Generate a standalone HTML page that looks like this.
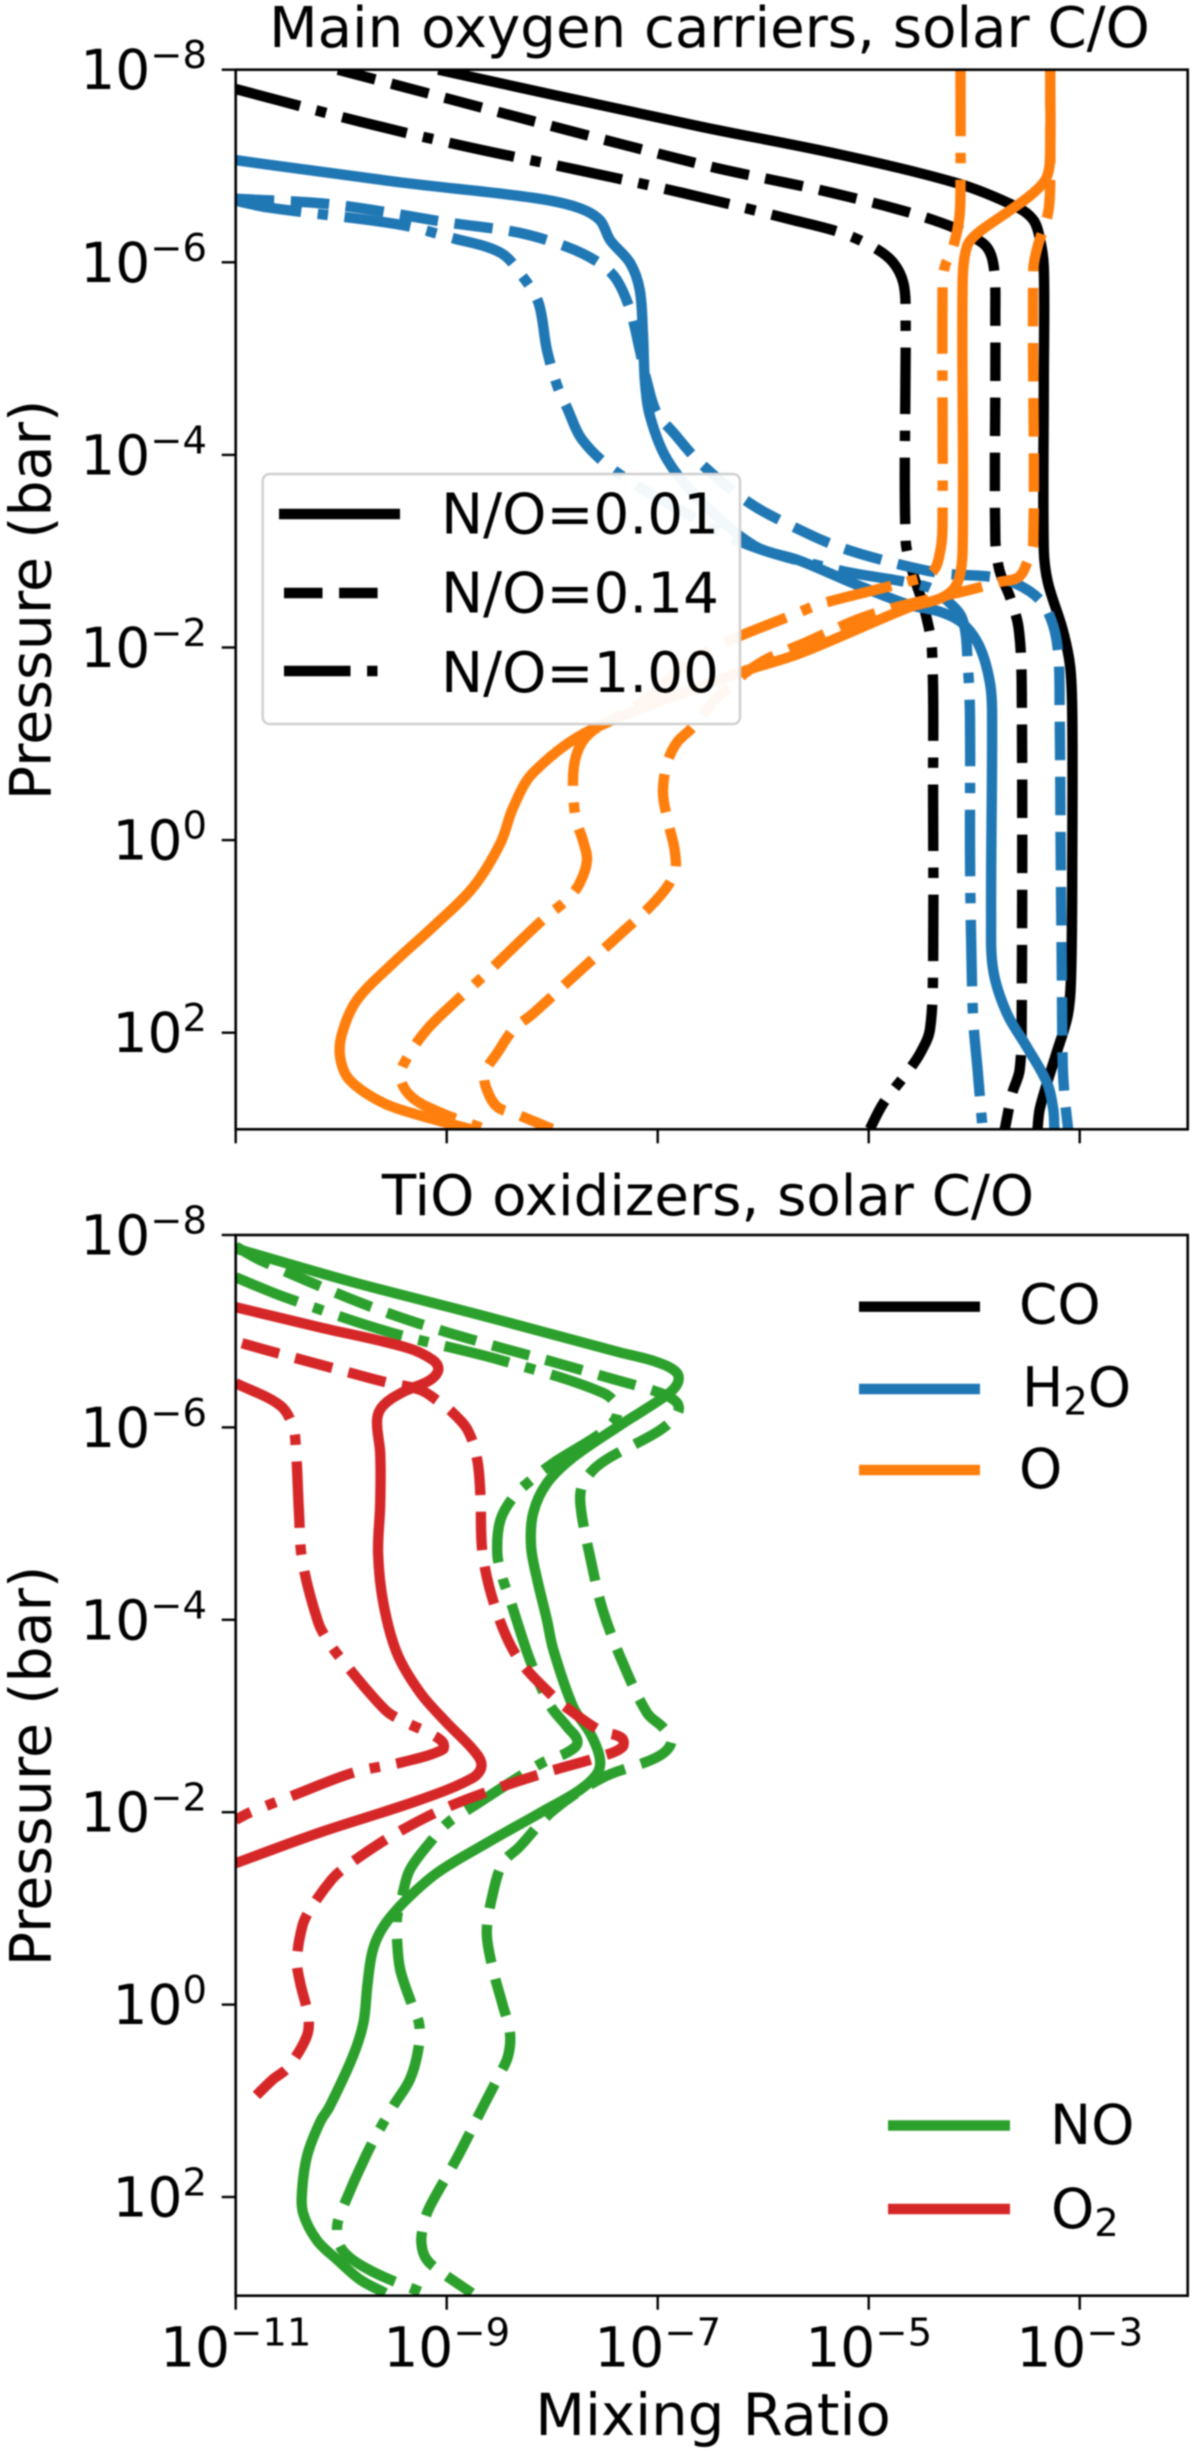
<!DOCTYPE html>
<html lang="en">
<head>
<meta charset="utf-8">
<title>Main oxygen carriers and TiO oxidizers</title>
<style>
html,body{margin:0;padding:0;background:#fff;}
body{width:1200px;height:2451px;overflow:hidden;}
svg{display:block;filter:blur(0.8px);}
text{font-family:"DejaVu Sans","Liberation Sans",sans-serif;fill:#000;}
</style>
</head>
<body>
<svg id="figure" xmlns="http://www.w3.org/2000/svg" width="1200" height="2451" viewBox="0 0 1200 2451">
  <defs>
    <clipPath id="clip-top"><rect x="235.7" y="69.7" width="952" height="1059.6"/></clipPath>
    <clipPath id="clip-bottom"><rect x="235.7" y="1235" width="952" height="1060.7"/></clipPath>
  </defs>
  <rect width="1200" height="2451" fill="#fff"/>

  <g>
    <text x="709.5" y="47" font-size="56.2" text-anchor="middle">Main oxygen carriers, solar C/O</text>
    <g id="top-lines" clip-path="url(#clip-top)"></g>
    <g id="top-axes"></g>
    <text x="0" y="0" transform="translate(50.5 600) rotate(-90)" font-size="57" text-anchor="middle">Pressure (bar)</text>
    <g>
      <rect x="262.7" y="474" width="477.3" height="250" rx="7" ry="7" fill="#fff" fill-opacity="0.95" stroke="#d0d0d0" stroke-width="2.5"/>
      <line x1="279" x2="400" y1="514" y2="514" stroke="#000" stroke-width="10.4"/>
      <text x="441" y="533.5" font-size="56.3">N/O=0.01</text>
      <line x1="284" x2="394" y1="593" y2="593" stroke="#000" stroke-width="10.4" stroke-dasharray="38.5 16.6"/>
      <text x="441" y="612.5" font-size="56.3">N/O=0.14</text>
      <line x1="284" x2="394" y1="671" y2="671" stroke="#000" stroke-width="10.4" stroke-dasharray="66.5 16.6 10.4 16.6"/>
      <text x="441" y="692" font-size="56.3">N/O=1.00</text>
    </g>
  </g>

  <g>
    <text x="708" y="1215" font-size="56.2" text-anchor="middle">TiO oxidizers, solar C/O</text>
    <g id="bottom-lines" clip-path="url(#clip-bottom)"></g>
    <g id="bottom-axes"></g>
    <text x="0" y="0" transform="translate(50.5 1766) rotate(-90)" font-size="57" text-anchor="middle">Pressure (bar)</text>
    <text x="713" y="2435" font-size="57.7" text-anchor="middle">Mixing Ratio</text>
    <g>
      <line x1="859" x2="980" y1="1306.7" y2="1306.7" stroke="#000" stroke-width="10.4"/>
      <text x="1019" y="1323.5" font-size="55">CO</text>
      <line x1="859" x2="980" y1="1389" y2="1389" stroke="#1f77b4" stroke-width="10.4"/>
      <text x="1022" y="1406.5" font-size="55">H<tspan font-size="38.5" dy="8">2</tspan><tspan dy="-8">O</tspan></text>
      <line x1="859" x2="980" y1="1470" y2="1470" stroke="#ff7f0e" stroke-width="10.4"/>
      <text x="1019" y="1488" font-size="55">O</text>
    </g>
    <g>
      <line x1="888" x2="1010" y1="2125.5" y2="2125.5" stroke="#2ca02c" stroke-width="10.4"/>
      <text x="1050" y="2144" font-size="55">NO</text>
      <line x1="888" x2="1010" y1="2209" y2="2209" stroke="#d62728" stroke-width="10.4"/>
      <text x="1051" y="2228" font-size="55">O<tspan font-size="38.5" dy="8">2</tspan></text>
    </g>
  </g>
</svg>

<script>
// Tick exponents (log10 units)
const xTickExponents = [-11, -9, -7, -5, -3];
const yTickExponents = [-8, -6, -4, -2, 0, 2];

// Every curve is a list of [log10 mixing ratio, log10 pressure in bar]

// CO
const coSolid = [[-9.08,-8],[-6.60,-7.41],[-5.34,-7.135],[-4.16,-6.82],[-3.59,-6.57],[-3.44,-6.44],[-3.38,-6.26],[-3.34,-5.95],[-3.34,-4.75],[-3.34,-3.01],[-3.30,-2.67],[-3.16,-2.18],[-3.09,-1.80],[-3.07,-1.28],[-3.07,0.10],[-3.08,1.32],[-3.11,1.80],[-3.22,2.21],[-3.30,2.49],[-3.38,2.80],[-3.40,3.0]];
const coDash = [[-10.03,-8],[-6.60,-7.02],[-5.34,-6.72],[-4.39,-6.44],[-3.92,-6.20],[-3.82,-5.99],[-3.80,-5.43],[-3.80,-3.12],[-3.76,-2.80],[-3.66,-2.52],[-3.58,-2.21],[-3.55,-1.63],[-3.55,1.84],[-3.57,2.39],[-3.64,2.63],[-3.71,3.0]];
const coDashDot = [[-11,-7.80],[-9.82,-7.46],[-8.81,-7.20],[-7.76,-6.96],[-6.76,-6.72],[-5.72,-6.44],[-5.27,-6.31],[-4.96,-6.16],[-4.77,-6.00],[-4.67,-5.78],[-4.65,-5.43],[-4.65,-3.12],[-4.58,-2.77],[-4.47,-2.39],[-4.40,-1.97],[-4.39,-0.42],[-4.39,1.32],[-4.42,1.97],[-4.51,2.21],[-4.64,2.42],[-4.86,2.73],[-4.99,3.0]];

// H2O
const h2oSolid = [[-11,-7.06],[-9.44,-6.83],[-8.18,-6.67],[-7.76,-6.57],[-7.55,-6.44],[-7.45,-6.23],[-7.26,-5.99],[-7.17,-5.71],[-7.14,-5.27],[-7.12,-4.75],[-7.07,-4.39],[-6.91,-3.95],[-6.60,-3.53],[-6.09,-3.06],[-5.65,-2.90],[-5.11,-2.65],[-4.61,-2.44],[-4.32,-2.37],[-4.11,-2.25],[-3.95,-2.01],[-3.85,-1.63],[-3.83,-1.28],[-3.84,0.80],[-3.82,1.35],[-3.69,1.80],[-3.50,2.15],[-3.31,2.52],[-3.25,2.80],[-3.24,3.0]];
const h2oDash = [[-11,-6.66],[-10.08,-6.60],[-8.97,-6.41],[-8.33,-6.31],[-7.86,-6.16],[-7.55,-5.99],[-7.39,-5.82],[-7.26,-5.50],[-7.17,-5.09],[-7.10,-4.75],[-7.01,-4.44],[-6.85,-4.23],[-6.60,-3.92],[-6.13,-3.50],[-5.65,-3.22],[-5.27,-3.04],[-4.77,-2.88],[-4.30,-2.77],[-3.76,-2.72],[-3.47,-2.58],[-3.31,-2.39],[-3.21,-2.01],[-3.19,-1.28],[-3.18,0.10],[-3.17,1.32],[-3.16,2.36],[-3.14,2.70],[-3.11,3.0]];
const h2oDashDot = [[-11,-6.64],[-10.70,-6.57],[-9.44,-6.39],[-8.94,-6.25],[-8.49,-6.10],[-8.28,-5.85],[-8.13,-5.58],[-8.05,-5.09],[-7.95,-4.71],[-7.86,-4.49],[-7.71,-4.15],[-7.39,-3.82],[-6.79,-3.43],[-6.13,-3.06],[-5.27,-2.80],[-4.45,-2.63],[-4.26,-2.49],[-4.11,-2.29],[-4.06,-1.80],[-4.04,-1.28],[-4.04,0.10],[-4.03,0.96],[-4.01,1.84],[-3.97,2.36],[-3.92,3.0]];

// O
const oSolid = [[-3.28,-8],[-3.28,-7.17],[-3.31,-6.89],[-3.44,-6.72],[-3.66,-6.54],[-3.97,-6.30],[-4.07,-6.16],[-4.11,-5.78],[-4.11,-3.01],[-4.16,-2.67],[-4.30,-2.52],[-4.61,-2.42],[-5.65,-1.94],[-6.22,-1.74],[-7.64,-1.14],[-8.18,-0.70],[-8.37,-0.34],[-8.49,0.03],[-8.75,0.49],[-9.13,0.90],[-9.51,1.28],[-9.85,1.66],[-9.99,2.0],[-10.01,2.25],[-9.92,2.49],[-9.60,2.73],[-9.25,2.86],[-8.78,3.0]];
const oDash = [[-3.28,-8],[-3.28,-6.82],[-3.30,-6.51],[-3.40,-6.16],[-3.44,-5.92],[-3.44,-3.09],[-3.50,-2.88],[-3.58,-2.73],[-3.76,-2.68],[-4.11,-2.58],[-4.77,-2.41],[-5.11,-2.29],[-5.58,-2.06],[-6.03,-1.84],[-6.41,-1.51],[-6.67,-1.17],[-6.82,-1.01],[-6.91,-0.80],[-6.95,-0.49],[-6.90,-0.18],[-6.84,0.10],[-6.84,0.34],[-7.01,0.62],[-7.39,1.01],[-7.80,1.42],[-8.18,1.80],[-8.37,1.97],[-8.52,2.21],[-8.64,2.42],[-8.62,2.59],[-8.52,2.77],[-8.33,2.85],[-8.00,3.0]];
const oDashDot = [[-4.13,-8],[-4.13,-6.82],[-4.14,-6.47],[-4.20,-6.16],[-4.28,-5.95],[-4.30,-5.71],[-4.30,-3.29],[-4.32,-3.01],[-4.40,-2.78],[-4.64,-2.68],[-4.86,-2.62],[-5.43,-2.46],[-5.65,-2.37],[-6.60,-1.92],[-7.17,-1.42],[-7.61,-1.14],[-7.74,-0.97],[-7.80,-0.70],[-7.78,-0.24],[-7.71,0],[-7.67,0.21],[-7.74,0.45],[-7.86,0.62],[-8.04,0.78],[-8.21,0.95],[-8.62,1.38],[-8.97,1.73],[-9.19,1.97],[-9.37,2.25],[-9.44,2.46],[-9.33,2.67],[-9.06,2.83],[-8.64,3.0]];

// NO
const noSolid = [[-11,-7.86],[-9.89,-7.51],[-8.62,-7.15],[-7.36,-6.78],[-7.01,-6.68],[-6.82,-6.57],[-6.81,-6.46],[-6.91,-6.34],[-7.36,-6.02],[-7.80,-5.69],[-8.05,-5.42],[-8.18,-5.11],[-8.20,-4.76],[-8.14,-4.41],[-8.05,-4.00],[-7.99,-3.69],[-7.80,-3.09],[-7.64,-2.82],[-7.55,-2.57],[-7.57,-2.41],[-7.74,-2.23],[-8.12,-1.99],[-8.62,-1.68],[-9.09,-1.37],[-9.41,-1.06],[-9.60,-0.81],[-9.70,-0.57],[-9.75,-0.22],[-9.79,0.19],[-9.89,0.54],[-10.11,1.06],[-10.20,1.22],[-10.32,1.56],[-10.37,1.92],[-10.36,2.17],[-10.23,2.45],[-10.04,2.65],[-9.82,2.86],[-9.58,3.0]];
const noDash = [[-11,-7.88],[-10.77,-7.74],[-10.01,-7.38],[-9.51,-7.17],[-9.00,-6.99],[-8.49,-6.83],[-7.99,-6.68],[-7.48,-6.52],[-6.98,-6.36],[-6.82,-6.26],[-6.81,-6.15],[-6.98,-5.97],[-7.45,-5.69],[-7.61,-5.56],[-7.72,-5.38],[-7.73,-5.17],[-7.64,-4.65],[-7.52,-4.10],[-7.33,-3.55],[-7.10,-3.03],[-6.95,-2.88],[-6.87,-2.73],[-7.01,-2.57],[-7.52,-2.36],[-7.99,-2.02],[-8.31,-1.64],[-8.47,-1.47],[-8.57,-1.12],[-8.62,-0.74],[-8.56,-0.36],[-8.47,0.0],[-8.40,0.30],[-8.42,0.54],[-8.51,0.75],[-8.66,1.07],[-8.90,1.59],[-9.16,2.10],[-9.22,2.29],[-9.24,2.48],[-9.19,2.65],[-9.04,2.79],[-8.76,3.0]];
const noDashDot = [[-11,-7.56],[-10.55,-7.36],[-9.54,-6.99],[-8.49,-6.70],[-7.52,-6.36],[-7.38,-6.18],[-7.48,-5.99],[-7.99,-5.63],[-8.18,-5.47],[-8.35,-5.30],[-8.49,-5.04],[-8.52,-4.69],[-8.47,-4.43],[-8.40,-4.21],[-8.21,-3.58],[-8.02,-3.11],[-7.86,-2.89],[-7.76,-2.73],[-7.86,-2.62],[-8.10,-2.51],[-8.78,-2.04],[-8.99,-1.89],[-9.14,-1.71],[-9.35,-1.40],[-9.42,-1.14],[-9.47,-0.91],[-9.47,-0.67],[-9.44,-0.36],[-9.33,0],[-9.26,0.21],[-9.27,0.47],[-9.35,0.78],[-9.51,1.06],[-9.73,1.49],[-9.98,2.10],[-10.04,2.32],[-9.99,2.55],[-9.73,2.76],[-9.22,3.0]];

// O2
const o2Solid = [[-11,-7.25],[-10.20,-7.04],[-9.38,-6.83],[-9.13,-6.70],[-9.08,-6.60],[-9.16,-6.49],[-9.41,-6.37],[-9.60,-6.23],[-9.66,-6.08],[-9.63,-5.73],[-9.63,-5.21],[-9.65,-4.69],[-9.60,-4.17],[-9.47,-3.65],[-9.25,-3.24],[-9.00,-2.93],[-8.75,-2.65],[-8.67,-2.49],[-8.75,-2.36],[-9.25,-2.13],[-10.20,-1.79],[-11,-1.47]];
const o2Dash = [[-10.94,-6.875],[-10.60,-6.77],[-10.09,-6.62],[-9.58,-6.47],[-9.25,-6.39],[-9.09,-6.28],[-8.95,-6.16],[-8.80,-5.97],[-8.71,-5.66],[-8.68,-5.28],[-8.66,-4.69],[-8.54,-4.13],[-8.33,-3.61],[-7.99,-3.20],[-7.83,-3.06],[-7.55,-2.85],[-7.34,-2.77],[-7.34,-2.67],[-7.57,-2.57],[-8.07,-2.41],[-8.57,-2.23],[-9.06,-2.02],[-9.54,-1.74],[-9.96,-1.43],[-10.09,-1.30],[-10.30,-0.98],[-10.37,-0.81],[-10.42,-0.46],[-10.39,-0.23],[-10.31,0.14],[-10.33,0.34],[-10.51,0.66],[-10.65,0.78],[-10.91,1.06]];
const o2DashDot = [[-11,-6.46],[-10.58,-6.23],[-10.46,-6.02],[-10.43,-5.80],[-10.40,-5.11],[-10.37,-4.62],[-10.22,-3.98],[-10.12,-3.77],[-9.99,-3.58],[-9.58,-3.06],[-9.40,-2.94],[-9.18,-2.83],[-9.04,-2.73],[-9.04,-2.65],[-9.42,-2.52],[-9.89,-2.41],[-10.44,-2.18],[-10.86,-2.00],[-11,-1.92]];

const SVG_NS = 'http://www.w3.org/2000/svg';
const LINE_WIDTH = 10.4;
const DASHES = {solid: '', dash: '38.5 16.6', dashdot: '66.5 16.6 10.4 16.6'};

// Axis functions
const xScale = v => 235.7 + (v + 11) * 105.5;
const yScaleTop = v => 69.7 + (v + 8) * 96.3;
const yScaleBottom = v => 1235 + (v + 8) * 96.2;

function smoothPath(points, yScale) {
  const p = points.map(d => [xScale(d[0]), yScale(d[1])]);
  const tangents = p.map((pt, i) => {
    const a = p[Math.max(i - 1, 0)], b = p[Math.min(i + 1, p.length - 1)];
    const dx = b[0] - a[0], dy = b[1] - a[1], len = Math.hypot(dx, dy) || 1;
    return [dx / len, dy / len];
  });
  let d = 'M' + p[0][0].toFixed(1) + ' ' + p[0][1].toFixed(1);
  for (let i = 0; i < p.length - 1; i++) {
    const seg = Math.hypot(p[i + 1][0] - p[i][0], p[i + 1][1] - p[i][1]) / 3;
    d += 'C' + (p[i][0] + tangents[i][0] * seg).toFixed(1) + ' ' + (p[i][1] + tangents[i][1] * seg).toFixed(1) + ' '
      + (p[i + 1][0] - tangents[i + 1][0] * seg).toFixed(1) + ' ' + (p[i + 1][1] - tangents[i + 1][1] * seg).toFixed(1) + ' '
      + p[i + 1][0].toFixed(1) + ' ' + p[i + 1][1].toFixed(1);
  }
  return d;
}

function drawCurve(parentId, values, yScale, color, style, name) {
  const el = document.createElementNS(SVG_NS, 'path');
  el.setAttribute('d', smoothPath(values, yScale));
  el.setAttribute('fill', 'none');
  el.setAttribute('stroke', color);
  el.setAttribute('stroke-width', LINE_WIDTH);
  el.setAttribute('stroke-linejoin', 'round');
  if (DASHES[style]) el.setAttribute('stroke-dasharray', DASHES[style]);
  
  
  document.getElementById(parentId).appendChild(el);
}

function drawTick(parent, x1, y1, x2, y2) {
  const el = document.createElementNS(SVG_NS, 'line');
  el.setAttribute('x1', x1);
  el.setAttribute('y1', y1);
  el.setAttribute('x2', x2);
  el.setAttribute('y2', y2);
  el.setAttribute('stroke', '#000');
  el.setAttribute('stroke-width', 2.4);
  
  
  parent.appendChild(el);
}

function drawPowerLabel(parent, x, y, exponent, anchor) {
  const el = document.createElementNS(SVG_NS, 'text');
  el.setAttribute('x', x);
  el.setAttribute('y', y);
  el.setAttribute('font-size', 55);
  el.setAttribute('text-anchor', anchor);
  
  
  el.appendChild(document.createTextNode('10'));
  const sup = document.createElementNS(SVG_NS, 'tspan');
  sup.setAttribute('font-size', 38.5);
  sup.setAttribute('dy', -21);
  sup.textContent = String(exponent).replace('-', '\u2212');
  el.appendChild(sup);
  parent.appendChild(el);
}

function drawAxes(parentId, top, bottom, yScale, showXLabels) {
  const g = document.getElementById(parentId);
  const frame = document.createElementNS(SVG_NS, 'rect');
  frame.setAttribute('x', 235.7);
  frame.setAttribute('y', top);
  frame.setAttribute('width', 952);
  frame.setAttribute('height', bottom - top);
  frame.setAttribute('fill', 'none');
  frame.setAttribute('stroke', '#000');
  frame.setAttribute('stroke-width', 2.6);
  
  
  g.appendChild(frame);
  xTickExponents.forEach(v => {
    drawTick(g, xScale(v), bottom, xScale(v), bottom + 14);
    if (showXLabels) drawPowerLabel(g, xScale(v), bottom + 71, v, 'middle');
  });
  yTickExponents.forEach(v => {
    drawTick(g, 221.7, yScale(v), 235.7, yScale(v));
    drawPowerLabel(g, 207, yScale(v) + 19.5, v, 'end');
  });
}

const BLACK = '#000000', BLUE = '#1f77b4', ORANGE = '#ff7f0e', GREEN = '#2ca02c', RED = '#d62728';

drawCurve('top-lines', coDash, yScaleTop, BLACK, 'dash', 'co-no-0.14-line');
drawCurve('top-lines', coDashDot, yScaleTop, BLACK, 'dashdot', 'co-no-1.00-line');
drawCurve('top-lines', coSolid, yScaleTop, BLACK, 'solid', 'co-no-0.01-line');
drawCurve('top-lines', h2oDash, yScaleTop, BLUE, 'dash', 'h2o-no-0.14-line');
drawCurve('top-lines', h2oDashDot, yScaleTop, BLUE, 'dashdot', 'h2o-no-1.00-line');
drawCurve('top-lines', h2oSolid, yScaleTop, BLUE, 'solid', 'h2o-no-0.01-line');
drawCurve('top-lines', oDash, yScaleTop, ORANGE, 'dash', 'o-no-0.14-line');
drawCurve('top-lines', oDashDot, yScaleTop, ORANGE, 'dashdot', 'o-no-1.00-line');
drawCurve('top-lines', oSolid, yScaleTop, ORANGE, 'solid', 'o-no-0.01-line');

drawCurve('bottom-lines', noDash, yScaleBottom, GREEN, 'dash', 'no-no-0.14-line');
drawCurve('bottom-lines', noDashDot, yScaleBottom, GREEN, 'dashdot', 'no-no-1.00-line');
drawCurve('bottom-lines', noSolid, yScaleBottom, GREEN, 'solid', 'no-no-0.01-line');
drawCurve('bottom-lines', o2Dash, yScaleBottom, RED, 'dash', 'o2-no-0.14-line');
drawCurve('bottom-lines', o2DashDot, yScaleBottom, RED, 'dashdot', 'o2-no-1.00-line');
drawCurve('bottom-lines', o2Solid, yScaleBottom, RED, 'solid', 'o2-no-0.01-line');

drawAxes('top-axes', 69.7, 1129.3, yScaleTop, false);
drawAxes('bottom-axes', 1235, 2295.7, yScaleBottom, true);
</script>
</body>
</html>
